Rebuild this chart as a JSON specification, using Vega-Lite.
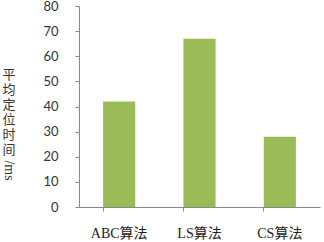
{
  "$schema": "https://vega.github.io/schema/vega-lite/v6.json",
  "width": 241,
  "height": 201,
  "autosize": {"type": "none"},
  "padding": {"left": 79, "top": 6, "right": 4, "bottom": 35},
  "background": "white",
  "config": {"view": {"stroke": null}},
  "data": {"values": [
    {"method": "ABC算法", "time": 42},
    {"method": "LS算法", "time": 67},
    {"method": "CS算法", "time": 28}
  ]},
  "encoding": {
    "x": {
      "field": "method", "type": "nominal", "sort": null,
      "scale": {"paddingInner": 0.6, "paddingOuter": 0.3},
      "axis": {
        "title": null, "labelAngle": 0, "bandPosition": 0,
        "domainColor": "#888888", "tickColor": "#888888", "tickSize": 4,
        "labelFont": "Liberation Serif, Noto Sans CJK SC", "labelFontSize": 14,
        "labelColor": "#222222", "labelPadding": 15
      }
    }
  },
  "layer": [
    {
      "mark": {"type": "bar", "color": "#9BBB59"},
      "encoding": {
        "y": {
          "field": "time", "type": "quantitative",
          "scale": {"domain": [0, 80], "nice": false},
          "axis": {
            "values": [0, 10, 20, 30, 40, 50, 60, 70, 80],
            "grid": false, "domainColor": "#888888", "tickColor": "#888888",
            "tickSize": 4, "labelPadding": 17,
            "labelFont": "Lato", "labelFontSize": 13, "labelColor": "#333333",
            "title": ["平", "均", "定", "位", "时", "间"],
            "titleAngle": 0, "titleAlign": "center", "titleBaseline": "top",
            "titleX": -70.5, "titleY": 62, "titleLineHeight": 15,
            "titleFont": "Noto Sans CJK SC", "titleFontSize": 13,
            "titleFontWeight": "normal", "titleColor": "#333333"
          }
        }
      }
    },
    {
      "mark": {"type": "bar", "opacity": 0},
      "encoding": {
        "y": {
          "field": "time", "type": "quantitative",
          "axis": {
            "orient": "right", "domain": false, "ticks": false, "labels": false, "grid": false,
            "title": "/ms", "titleAngle": 90, "titleAlign": "center", "titleBaseline": "middle",
            "titleX": -311.5, "titleY": 164,
            "titleFont": "Liberation Serif", "titleFontSize": 14,
            "titleFontWeight": "normal", "titleColor": "#333333"
          }
        }
      }
    }
  ],
  "resolve": {"axis": {"y": "independent"}}
}
